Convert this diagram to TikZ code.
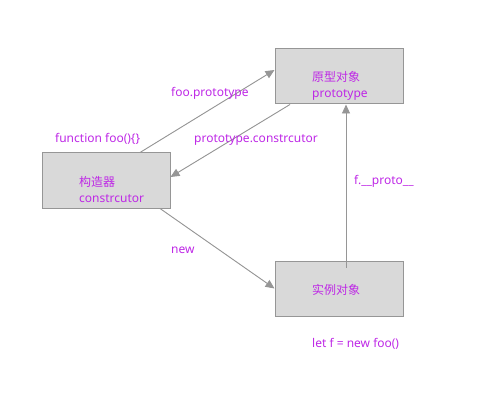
\documentclass[tikz,border=0pt]{standalone}
\usepackage{fontspec}
\setmainfont{Noto Sans}
\newfontfamily\cjk{Noto Sans CJK SC}
\usepackage{xcolor}
\usetikzlibrary{arrows.meta,positioning}
\definecolor{txtpurple}{RGB}{190,40,230}
\definecolor{boxfill}{RGB}{217,217,217}
\definecolor{linegray}{RGB}{150,150,150}

\begin{document}
\begin{tikzpicture}[
  x=1pt, y=-1pt,
  font=\fontsize{12}{16.5}\selectfont,
  >={Triangle[length=9pt, width=8pt]},
  box/.style={draw=linegray, fill=boxfill, line width=1pt,
              minimum width=128pt, minimum height=55pt, inner sep=0pt},
  txt/.style={text=txtpurple, inner sep=0pt, align=left, anchor=base west},
  link/.style={->, draw=linegray, fill=linegray, line width=0.9pt},
]
\useasboundingbox (0,0) rectangle (497,403);
% the three objects
\node[box] (proto) at (339,76.5) {};
\node[box] (ctor) at (106,180.5) {};
\node[box] (inst) at (339,288.5) {};
\node[txt] (protoText) at (312,98) {{\cjk 原型对象}\\prototype};
\node[txt] (ctorText) at (79,202.5) {{\cjk 构造器}\\constrcutor};
\node[txt] (instText) at (312,294) {\cjk 实例对象};
% links between them
\draw[link] ([xshift=34pt]ctor.north) -- ([yshift=6.5pt]proto.west);
\draw[link] ([xshift=-49pt]proto.south) -- ([yshift=3.5pt]ctor.east);
\draw[link] ([xshift=54pt]ctor.south) -- (inst.west);
\draw[link] ([xshift=7pt, yshift=-7pt]inst.north) -- ([xshift=7pt]proto.south);
% labels
\node[txt] (fooProto) at (171,97) {foo.prototype};
\node[txt] (fooFn) at (55,143) {function foo()\{\}};
\node[txt] (protoCtor) at (194,143) {prototype.constrcutor};
\node[txt] (dunder) at (354,185) {f.\_\_proto\_\_};
\node[txt] (newLbl) at (171,253) {new};
\node[txt] (letLbl) at (312,347) {let f = new foo()};
\end{tikzpicture}
\end{document}
